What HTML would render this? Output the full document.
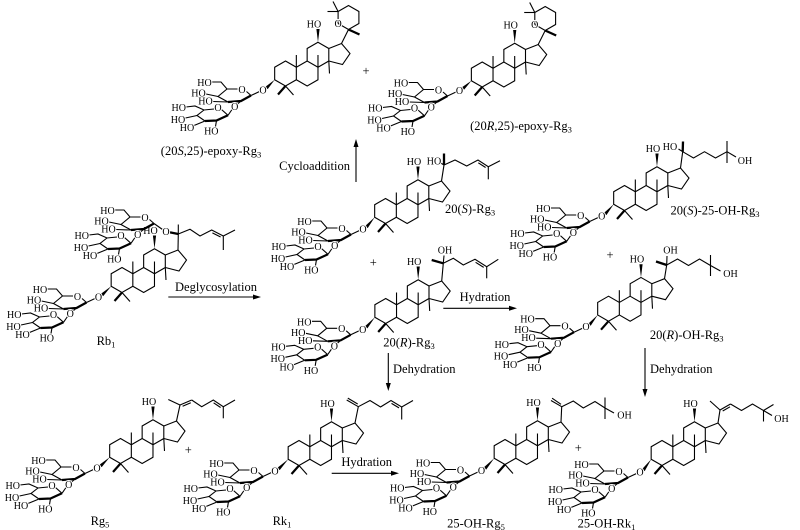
<!DOCTYPE html>
<html><head><meta charset="utf-8"><style>
html,body{margin:0;padding:0;background:#fff}
svg{display:block}
.b{stroke:#000;stroke-width:1.1;fill:none}
.w{stroke:#000;stroke-width:2.3;fill:none}
.t{font-family:"Liberation Serif",serif;font-size:10px;text-anchor:middle;fill:#000;stroke:#fff;stroke-width:2;paint-order:stroke;stroke-linejoin:round}
.L{font-family:"Liberation Serif",serif;font-size:12.5px;fill:#000}
.m{text-anchor:middle}
</style></head><body>
<svg width="800" height="530" viewBox="0 0 800 530" xmlns="http://www.w3.org/2000/svg">
<defs>
<g id="core" fill="none" stroke="#000" stroke-width="1.1">
<polygon points="0,-12.5 10.83,-6.25 10.83,6.25 0,12.5 -10.83,6.25 -10.83,-6.25"/>
<polyline points="10.83,-6.25 21.65,-12.5 32.48,-6.25 32.48,6.25 21.65,12.5 10.83,6.25"/>
<polyline points="21.65,-12.5 21.65,-25 32.48,-31.25 43.3,-25 43.3,-12.5 32.48,-6.25"/>
<polyline points="43.3,-25 56,-30 64.5,-20 57,-9 43.3,-12.5"/>
<line x1="10.83" y1="-6.25" x2="10.83" y2="-18.5"/>
<line x1="32.48" y1="-6.25" x2="32.48" y2="-18.5"/>
<line x1="43.3" y1="-12.5" x2="44" y2="0"/>
<line x1="0" y1="12.5" x2="-7.5" y2="21" stroke-width="2.2"/>
<line x1="0" y1="12.5" x2="8" y2="21.5"/>
<polygon points="32.48,-31.25 30.9,-44.5 34.1,-44.5" fill="#000" stroke="none"/>
</g>
<g id="sug" fill="none" stroke="#000" stroke-width="1.1">
<polyline points="-51,-8 -42,-8 -36,-1 -25.5,-1"/>
<line x1="-16.5" y1="1.5" x2="-12" y2="5.5"/>
<polyline points="-12,5.5 -22,11 -35,12" stroke-width="2.2"/>
<polyline points="-35,12 -45,6.5 -36,-1"/>
<line x1="-57" y1="4" x2="-45" y2="6.5"/>
<line x1="-50" y1="11.5" x2="-35" y2="12"/>
<line x1="-22" y1="11" x2="-26" y2="14.5"/>
<line x1="-31" y1="19.5" x2="-35" y2="25.3"/>
<polyline points="-77,17 -68,16 -59,20 -49,19"/>
<line x1="-41.5" y1="19.5" x2="-35" y2="25.3"/>
<polyline points="-35,25.3 -46.5,30.5 -58,31" stroke-width="2.2"/>
<polyline points="-58,31 -66,25.5 -59,20"/>
<line x1="-77.5" y1="28" x2="-66" y2="25.5"/>
<line x1="-69" y1="35.5" x2="-58" y2="31"/>
<line x1="-46.5" y1="30.5" x2="-47.5" y2="36.5"/>
</g>
<g id="pyr" fill="none" stroke="#000" stroke-width="1.1">
<line x1="56" y1="-30" x2="63" y2="-44"/>
<polyline points="52.6,-50 63,-44 73.4,-50 73.4,-62 63,-68 52.6,-62 52.6,-50"/>
<line x1="52.6" y1="-62" x2="42" y2="-62"/>
<line x1="52.6" y1="-62" x2="47.5" y2="-72"/>
<line x1="63" y1="-44" x2="74" y2="-39" stroke-width="2.3"/>
</g>
</defs>

<!-- C3-O wedges -->
<g fill="#000">
<polygon points="274.7,79.75 267.7,89.1 265.3,86.9"/>
<polygon points="471.4,80.75 464.2,89.6 461.8,87.4"/>
<polygon points="374.7,217.25 367.7,228.1 365.3,225.9"/>
<polygon points="374.9,317.25 367.4,328.4 365,326.2"/>
<polygon points="613.7,204.25 606.4,215.1 604,212.9"/>
<polygon points="597.7,314.95 590.7,325.8 588.3,323.6"/>
<polygon points="111.2,286.25 103.2,296.1 100.8,293.9"/>
<polygon points="109.7,457.25 101.7,467.1 99.3,464.9"/>
<polygon points="288.2,459.25 279.7,470.1 277.3,467.9"/>
<polygon points="494.2,458.25 486.2,469.6 483.8,467.4"/>
<polygon points="651.2,459.25 644.7,471.1 642.3,468.9"/>
</g>

<!-- side chains -->
<g class="b">
<!-- 20(S)-Rg3 -->
<line x1="441.5" y1="181" x2="444" y2="165"/>
<line x1="444" y1="165" x2="440" y2="162.5"/>
<polyline points="444,165 455,160 466.7,166 478,160 488.3,166.7 500,160.7"/>
<line x1="488.3" y1="166.7" x2="488.3" y2="179.3"/>
<line x1="478.3" y1="162.8" x2="485.6" y2="167.5"/>
<!-- 20(R)-Rg3 -->
<line x1="441.7" y1="281" x2="443.3" y2="263.3"/>
<line x1="443.3" y1="263.3" x2="444" y2="255.5"/>
<polyline points="443.3,263.3 453.3,258.3 463.3,265 475,259.3 486.7,266.7 498.3,259.3"/>
<line x1="486.7" y1="266.7" x2="486.7" y2="278.3"/>
<line x1="475.6" y1="262.3" x2="483.7" y2="267.4"/>
<!-- 20(S)-25-OH-Rg3 -->
<line x1="680.5" y1="168" x2="682.7" y2="151.7"/>
<line x1="682.7" y1="151.7" x2="678.5" y2="149"/>
<polyline points="682.7,151.7 693.5,158 704.5,151.7 715.5,158 727,151.7"/>
<line x1="727" y1="151.7" x2="727" y2="141"/>
<line x1="727" y1="151.7" x2="727" y2="163"/>
<line x1="727" y1="151.7" x2="736" y2="157"/>
<!-- 20(R)-OH-Rg3 -->
<line x1="664.5" y1="278.7" x2="666.7" y2="265"/>
<line x1="666.7" y1="265" x2="667" y2="256"/>
<polyline points="666.7,265 677.5,259 688.5,265.5 699.5,259 710.5,265.5"/>
<line x1="710.5" y1="265.5" x2="710.5" y2="255"/>
<line x1="710.5" y1="265.5" x2="710.5" y2="276"/>
<line x1="710.5" y1="265.5" x2="720.5" y2="271"/>
<!-- Rb1 -->
<line x1="178" y1="250" x2="178.3" y2="234"/>
<line x1="178.3" y1="234" x2="178.3" y2="224.5"/>
<polyline points="178.3,234 190,229.3 200,236 211.7,230 223.3,236 235,230"/>
<line x1="223.3" y1="236" x2="223.3" y2="250"/>
<line x1="212.4" y1="232.9" x2="220.6" y2="237"/>
<line x1="154" y1="223.5" x2="162.5" y2="229.5"/>
<!-- Rg5 -->
<line x1="176.5" y1="421" x2="180" y2="405"/>
<line x1="180" y1="405" x2="168.3" y2="399.5"/>
<line x1="180" y1="405" x2="191.7" y2="400"/>
<line x1="182.6" y1="406.3" x2="190.8" y2="402.8"/>
<polyline points="191.7,400 201.7,406.7 213.3,400 223.3,406.7 235,400"/>
<line x1="223.3" y1="406.7" x2="223.3" y2="418.3"/>
<line x1="213.6" y1="402.8" x2="220.6" y2="407.5"/>
<!-- Rk1 -->
<line x1="355" y1="423" x2="358.3" y2="406.7"/>
<line x1="358.3" y1="406.7" x2="346.7" y2="400"/>
<line x1="357.7" y1="404" x2="347.8" y2="398.1"/>
<polyline points="358.3,406.7 370,400.5 380.5,407 391,400.5 401.7,407 413,400.5"/>
<line x1="401.7" y1="407" x2="401.7" y2="419.5"/>
<line x1="391.5" y1="403.4" x2="399" y2="407.9"/>
<!-- 25-OH-Rg5 -->
<line x1="561" y1="422" x2="561.7" y2="406.7"/>
<line x1="561.7" y1="406.7" x2="551" y2="400.5"/>
<line x1="561" y1="404.3" x2="552.1" y2="398.2"/>
<polyline points="561.7,406.7 573.3,401 583.3,408 595,401.5 605,408"/>
<line x1="605" y1="408" x2="605" y2="397.5"/>
<line x1="605" y1="408" x2="605" y2="419"/>
<line x1="605" y1="408" x2="614" y2="413"/>
<!-- 25-OH-Rk1 -->
<line x1="718" y1="423" x2="720" y2="410"/>
<line x1="720" y1="410" x2="710" y2="401"/>
<line x1="720" y1="410" x2="730.5" y2="404"/>
<line x1="722.7" y1="411" x2="730" y2="406.8"/>
<polyline points="730.5,404 741.5,410.5 752.5,404 763.5,410.5"/>
<line x1="763.5" y1="410.5" x2="773.5" y2="404.5"/>
<line x1="763.5" y1="410.5" x2="763.5" y2="421.5"/>
<line x1="763.5" y1="410.5" x2="772" y2="415.5"/>
</g>
<g class="w">
<line x1="444" y1="165" x2="444" y2="153.5"/>
<line x1="443.3" y1="263.3" x2="431.7" y2="260"/>
<line x1="682.7" y1="151.7" x2="683" y2="141.5"/>
<line x1="666.7" y1="265" x2="656" y2="261.5"/>
<line x1="178.3" y1="234" x2="169.5" y2="232.3"/>
</g>

<!-- arrows -->
<g class="b">
<line x1="168.3" y1="297" x2="254" y2="297"/>
<line x1="356" y1="182" x2="356" y2="146"/>
<line x1="443.3" y1="308.3" x2="510" y2="308.3"/>
<line x1="388.3" y1="353" x2="388.3" y2="384"/>
<line x1="645" y1="348" x2="645" y2="390"/>
<line x1="331.7" y1="473.3" x2="392" y2="473.3"/>
</g>
<g fill="#000">
<polygon points="261,297 253,294.5 253,299.5"/>
<polygon points="356,139 353.5,147 358.5,147"/>
<polygon points="517,308.3 509,305.8 509,310.8"/>
<polygon points="388.3,391 385.8,383 390.8,383"/>
<polygon points="645,397 642.5,389 647.5,389"/>
<polygon points="399,473.3 391,470.8 391,475.8"/>
</g>

<!-- cores -->
<g transform="translate(285.5,73.5)"><use href="#core"/><use href="#pyr"/><text class="t" x="28.5" y="-46">HO</text><text class="t" x="52.6" y="-46.5">O</text></g>
<g transform="translate(482.2,74.5)"><use href="#core"/><use href="#pyr"/><text class="t" x="28.5" y="-46">HO</text><text class="t" x="52.6" y="-46.5">O</text></g>
<g transform="translate(385.5,211)"><use href="#core"/><text class="t" x="28.5" y="-46">HO</text></g>
<g transform="translate(385.7,311)"><use href="#core"/><text class="t" x="28.5" y="-46">HO</text></g>
<g transform="translate(624.5,198)"><use href="#core"/><text class="t" x="28.5" y="-46">HO</text></g>
<g transform="translate(608.5,308.7)"><use href="#core"/><text class="t" x="28.5" y="-46">HO</text></g>
<g transform="translate(122,280)"><use href="#core"/><text class="t" x="28.5" y="-46">HO</text></g>
<g transform="translate(120.5,451)"><use href="#core"/><text class="t" x="28.5" y="-46">HO</text></g>
<g transform="translate(299,453)"><use href="#core"/><text class="t" x="28.5" y="-46">HO</text></g>
<g transform="translate(505,452)"><use href="#core"/><text class="t" x="28.5" y="-46">HO</text></g>
<g transform="translate(662,453)"><use href="#core"/><text class="t" x="28.5" y="-46">HO</text></g>

<!-- side chain texts -->
<text class="t" x="434" y="164.5">HO</text>
<text class="t" x="445" y="253.5">OH</text>
<text class="t" x="670" y="150">HO</text>
<text class="t" x="745" y="164">OH</text>
<text class="t" x="670.5" y="253.5">OH</text>
<text class="t" x="730.5" y="277">OH</text>
<text class="t" x="624.5" y="418.5">OH</text>
<text class="t" x="781.5" y="422">OH</text>
<text class="t" x="166" y="235.2">O</text>

<!-- sugars -->
<g transform="translate(263,90)"><use href="#sug"/><line class="b" x1="-12" y1="5.5" x2="-3.5" y2="1.5"/><g class="t"><text x="-58.5" y="-4">HO</text><text x="-21" y="2.8">O</text><text x="-64.5" y="6.5">HO</text><text x="-57.5" y="14.5">HO</text><text x="-28.3" y="20.2">O</text><text x="-84.3" y="21.2">HO</text><text x="-45" y="21.2">O</text><text x="-85" y="32.8">HO</text><text x="-76" y="41.2">HO</text><text x="-51.7" y="44.5">HO</text><text x="0" y="3.5">O</text></g></g>
<g transform="translate(459.5,90.5)"><use href="#sug"/><line class="b" x1="-12" y1="5.5" x2="-3.5" y2="1.5"/><g class="t"><text x="-58.5" y="-4">HO</text><text x="-21" y="2.8">O</text><text x="-64.5" y="6.5">HO</text><text x="-57.5" y="14.5">HO</text><text x="-28.3" y="20.2">O</text><text x="-84.3" y="21.2">HO</text><text x="-45" y="21.2">O</text><text x="-85" y="32.8">HO</text><text x="-76" y="41.2">HO</text><text x="-51.7" y="44.5">HO</text><text x="0" y="3.5">O</text></g></g>
<g transform="translate(363,229)"><use href="#sug"/><line class="b" x1="-12" y1="5.5" x2="-3.5" y2="1.5"/><g class="t"><text x="-58.5" y="-4">HO</text><text x="-21" y="2.8">O</text><text x="-64.5" y="6.5">HO</text><text x="-57.5" y="14.5">HO</text><text x="-28.3" y="20.2">O</text><text x="-84.3" y="21.2">HO</text><text x="-45" y="21.2">O</text><text x="-85" y="32.8">HO</text><text x="-76" y="41.2">HO</text><text x="-51.7" y="44.5">HO</text><text x="0" y="3.5">O</text></g></g>
<g transform="translate(362.7,329.3)"><use href="#sug"/><line class="b" x1="-12" y1="5.5" x2="-3.5" y2="1.5"/><g class="t"><text x="-58.5" y="-4">HO</text><text x="-21" y="2.8">O</text><text x="-64.5" y="6.5">HO</text><text x="-57.5" y="14.5">HO</text><text x="-28.3" y="20.2">O</text><text x="-84.3" y="21.2">HO</text><text x="-45" y="21.2">O</text><text x="-85" y="32.8">HO</text><text x="-76" y="41.2">HO</text><text x="-51.7" y="44.5">HO</text><text x="0" y="3.5">O</text></g></g>
<g transform="translate(601.7,216)"><use href="#sug"/><line class="b" x1="-12" y1="5.5" x2="-3.5" y2="1.5"/><g class="t"><text x="-58.5" y="-4">HO</text><text x="-21" y="2.8">O</text><text x="-64.5" y="6.5">HO</text><text x="-57.5" y="14.5">HO</text><text x="-28.3" y="20.2">O</text><text x="-84.3" y="21.2">HO</text><text x="-45" y="21.2">O</text><text x="-85" y="32.8">HO</text><text x="-76" y="41.2">HO</text><text x="-51.7" y="44.5">HO</text><text x="0" y="3.5">O</text></g></g>
<g transform="translate(586,326.7)"><use href="#sug"/><line class="b" x1="-12" y1="5.5" x2="-3.5" y2="1.5"/><g class="t"><text x="-58.5" y="-4">HO</text><text x="-21" y="2.8">O</text><text x="-64.5" y="6.5">HO</text><text x="-57.5" y="14.5">HO</text><text x="-28.3" y="20.2">O</text><text x="-84.3" y="21.2">HO</text><text x="-45" y="21.2">O</text><text x="-85" y="32.8">HO</text><text x="-76" y="41.2">HO</text><text x="-51.7" y="44.5">HO</text><text x="0" y="3.5">O</text></g></g>
<g transform="translate(98.5,297)"><use href="#sug"/><line class="b" x1="-12" y1="5.5" x2="-3.5" y2="1.5"/><g class="t"><text x="-58.5" y="-4">HO</text><text x="-21" y="2.8">O</text><text x="-64.5" y="6.5">HO</text><text x="-57.5" y="14.5">HO</text><text x="-28.3" y="20.2">O</text><text x="-84.3" y="21.2">HO</text><text x="-45" y="21.2">O</text><text x="-85" y="32.8">HO</text><text x="-76" y="41.2">HO</text><text x="-51.7" y="44.5">HO</text><text x="0" y="3.5">O</text></g></g>
<g transform="translate(166,218)"><use href="#sug"/><g class="t"><text x="-58.5" y="-4">HO</text><text x="-21" y="2.8">O</text><text x="-64.5" y="6.5">HO</text><text x="-57.5" y="14.5">HO</text><text x="-28.3" y="20.2">O</text><text x="-84.3" y="21.2">HO</text><text x="-45" y="21.2">O</text><text x="-85" y="32.8">HO</text><text x="-76" y="41.2">HO</text><text x="-51.7" y="44.5">HO</text></g></g>
<g transform="translate(97,468)"><use href="#sug"/><line class="b" x1="-12" y1="5.5" x2="-3.5" y2="1.5"/><g class="t"><text x="-58.5" y="-4">HO</text><text x="-21" y="2.8">O</text><text x="-64.5" y="6.5">HO</text><text x="-57.5" y="14.5">HO</text><text x="-28.3" y="20.2">O</text><text x="-84.3" y="21.2">HO</text><text x="-45" y="21.2">O</text><text x="-85" y="32.8">HO</text><text x="-76" y="41.2">HO</text><text x="-51.7" y="44.5">HO</text><text x="0" y="3.5">O</text></g></g>
<g transform="translate(275,471)"><use href="#sug"/><line class="b" x1="-12" y1="5.5" x2="-3.5" y2="1.5"/><g class="t"><text x="-58.5" y="-4">HO</text><text x="-21" y="2.8">O</text><text x="-64.5" y="6.5">HO</text><text x="-57.5" y="14.5">HO</text><text x="-28.3" y="20.2">O</text><text x="-84.3" y="21.2">HO</text><text x="-45" y="21.2">O</text><text x="-85" y="32.8">HO</text><text x="-76" y="41.2">HO</text><text x="-51.7" y="44.5">HO</text><text x="0" y="3.5">O</text></g></g>
<g transform="translate(481.5,470.5)"><use href="#sug"/><line class="b" x1="-12" y1="5.5" x2="-3.5" y2="1.5"/><g class="t"><text x="-58.5" y="-4">HO</text><text x="-21" y="2.8">O</text><text x="-64.5" y="6.5">HO</text><text x="-57.5" y="14.5">HO</text><text x="-28.3" y="20.2">O</text><text x="-84.3" y="21.2">HO</text><text x="-45" y="21.2">O</text><text x="-85" y="32.8">HO</text><text x="-76" y="41.2">HO</text><text x="-51.7" y="44.5">HO</text><text x="0" y="3.5">O</text></g></g>
<g transform="translate(640,472)"><use href="#sug"/><line class="b" x1="-12" y1="5.5" x2="-3.5" y2="1.5"/><g class="t"><text x="-58.5" y="-4">HO</text><text x="-21" y="2.8">O</text><text x="-64.5" y="6.5">HO</text><text x="-57.5" y="14.5">HO</text><text x="-28.3" y="20.2">O</text><text x="-84.3" y="21.2">HO</text><text x="-45" y="21.2">O</text><text x="-85" y="32.8">HO</text><text x="-76" y="41.2">HO</text><text x="-51.7" y="44.5">HO</text><text x="0" y="3.5">O</text></g></g>

<!-- labels -->
<g class="L">
<text class="m" x="211" y="155">(20<tspan font-style="italic">S</tspan>,25)-epoxy-Rg<tspan font-size="8.5" dy="2.5">3</tspan></text>
<text class="m" x="521" y="130">(20<tspan font-style="italic">R</tspan>,25)-epoxy-Rg<tspan font-size="8.5" dy="2.5">3</tspan></text>
<text x="445" y="213">20(<tspan font-style="italic">S</tspan>)-Rg<tspan font-size="8.5" dy="2.5">3</tspan></text>
<text class="m" x="409" y="346.5">20(<tspan font-style="italic">R</tspan>)-Rg<tspan font-size="8.5" dy="2.5">3</tspan></text>
<text class="m" x="715" y="214.5">20(<tspan font-style="italic">S</tspan>)-25-OH-Rg<tspan font-size="8.5" dy="2.5">3</tspan></text>
<text class="m" x="686.7" y="339">20(<tspan font-style="italic">R</tspan>)-OH-Rg<tspan font-size="8.5" dy="2.5">3</tspan></text>
<text class="m" x="106" y="345">Rb<tspan font-size="8.5" dy="2.5">1</tspan></text>
<text class="m" x="100" y="525">Rg<tspan font-size="8.5" dy="2.5">5</tspan></text>
<text class="m" x="282" y="525">Rk<tspan font-size="8.5" dy="2.5">1</tspan></text>
<text class="m" x="476" y="527.5">25-OH-Rg<tspan font-size="8.5" dy="2.5">5</tspan></text>
<text class="m" x="606.5" y="527.5">25-OH-Rk<tspan font-size="8.5" dy="2.5">1</tspan></text>
<text class="m" x="216" y="291">Deglycosylation</text>
<text x="350" y="170" text-anchor="end">Cycloaddition</text>
<text class="m" x="485" y="301">Hydration</text>
<text x="393" y="373">Dehydration</text>
<text x="650" y="373">Dehydration</text>
<text class="m" x="366.7" y="466">Hydration</text>
<text class="m" x="366" y="75">+</text>
<text class="m" x="373.3" y="266.5">+</text>
<text class="m" x="610" y="259">+</text>
<text class="m" x="188.3" y="454">+</text>
<text class="m" x="578.3" y="452">+</text>
</g>
</svg>
</body></html>
